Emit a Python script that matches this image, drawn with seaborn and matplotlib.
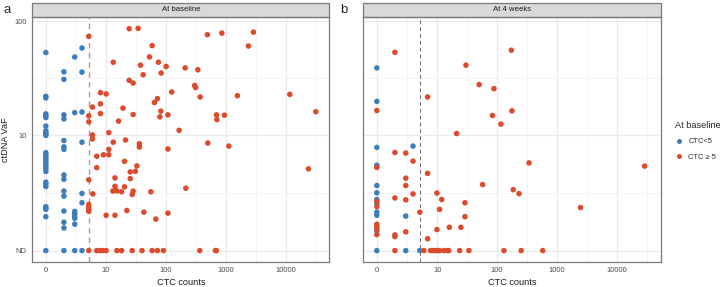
import numpy as np
import pandas as pd
import matplotlib
matplotlib.use("Agg")
import matplotlib.pyplot as plt
from matplotlib.lines import Line2D
from matplotlib.patches import Rectangle
import seaborn as sns

# (CTC count, ctDNA VaF) pairs, VaF 0 = ND
baseline_low = [
    (0, 53.3), (0, 22.1), (0, 21.4), (0, 15.5), (0, 14.9), (0, 14.4), (0, 12.1), (0, 11.0),
    (0, 10.6), (0, 10.3), (0, 10.0), (0, 7.0), (0, 6.7), (0, 6.4), (0, 6.05), (0, 5.75),
    (0, 5.5), (0, 5.25), (0, 5.0), (0, 4.7), (0, 3.7), (0, 3.55), (0, 3.35), (0, 2.0),
    (0, 1.93), (0, 1.85), (0, 1.47), (0, 0),
    (1.5, 36.2), (1.5, 31.1), (1.5, 15.2), (1.5, 14.0), (1.5, 9.0), (1.5, 7.9), (1.5, 7.5),
    (1.5, 4.35), (1.5, 3.95), (1.5, 3.0), (1.5, 2.65), (1.5, 1.76), (1.5, 1.2), (1.5, 0.94), (1.5, 0),
    (2.7, 48.8), (2.7, 15.9), (2.7, 1.74), (2.7, 1.62), (2.7, 1.5), (2.7, 1.39), (2.7, 1.11), (2.7, 0),
    (3.75, 58.4), (3.75, 36.0), (3.75, 16.1), (3.75, 8.7), (3.75, 2.83), (3.75, 2.23), (3.75, 0),
]
baseline_high = [
    (5, 73.8), (5, 14.9), (5, 13.2), (5, 3.9), (5, 2.13), (5, 1.99), (5, 1.86), (5, 1.74), (5, 0),
    (5.8, 17.8), (5.8, 10.1), (5.8, 9.3), (5.9, 2.8),
    (8.0, 23.8), (8.0, 19.0), (8.0, 15.6), (10.0, 23.2), (10.0, 1.54),
    (11.1, 10.6), (11.1, 7.5), (11.1, 6.7), (9.0, 6.7), (6.9, 6.5), (6.9, 5.1),
    (13.2, 43.9), (13.2, 8.7), (13.0, 3.0), (14.1, 4.07), (14.1, 3.36), (14.1, 1.54), (15.2, 3.02),
    (16.2, 13.4), (18.2, 2.95), (19.2, 17.4), (20.4, 5.83), (20.4, 3.32), (21.2, 9.1), (22.3, 1.79),
    (24.4, 86.1), (24.4, 30.5), (25.4, 4.65), (25.4, 4.01), (27.4, 2.76), (28.4, 3.0), (28.4, 28.9),
    (28.4, 15.3), (31.0, 4.71), (32.8, 5.29), (34.4, 86.6), (36.2, 8.43), (36.2, 7.87), (37.7, 41.4),
    (41.7, 34.1), (42.9, 1.70), (53.2, 48.8), (56.1, 2.95), (59.0, 61.3), (64.4, 19.5), (67.9, 1.35),
    (72.2, 21.1), (75.0, 43.9), (79.2, 14.6), (82.3, 16.4), (83.2, 35.3), (101, 40.3), (108, 15.2),
    (108, 7.56), (108, 1.65), (125, 24.1), (166, 11.1), (209, 39.2), (215, 3.21), (301, 27.5),
    (313, 26.4), (340, 37.7), (372, 21.8), (491, 76.4), (499, 8.55), (694, 15.2), (705, 13.8),
    (854, 78.8), (943, 15.1), (1117, 8.03), (1552, 22.4), (2368, 60.8), (2869, 80.4),
    (11590, 23.0), (23640, 4.97), (31400, 16.2),
    (6.9, 0), (7.9, 0), (8.8, 0), (10, 0), (15.2, 0), (18.2, 0), (27.4, 0), (40, 0), (59, 0),
    (72.2, 0), (90.9, 0), (367, 0), (668, 0), (694, 0),
]
week4_low = [
    (0, 39.2), (0, 19.95), (0, 7.81), (0, 5.36), (0, 3.42), (0, 2.88), (0, 2.43), (0, 2.19),
    (0, 1.70), (0, 1.54), (0, 0.8), (0, 0),
    (2.7, 1.5), (2.7, 0), (3.75, 8.03), (5, 0),
]
week4_high = [
    (0, 16.6), (0, 5.13), (0, 2.31), (0, 2.0), (0, 1.11), (0, 1.0), (0, 0.88), (0, 0.65),
    (1.5, 53.6), (30.3, 41.4), (50.4, 28.0), (88.8, 25.8), (6.85, 21.8), (83.9, 15.0), (173, 55.9),
    (177, 16.5), (116, 12.6), (21.2, 10.4), (1.5, 7.03), (2.7, 6.95), (3.75, 5.87), (340, 5.64),
    (28500, 5.27), (6.85, 4.5), (2.7, 4.05), (2.7, 3.42), (57.5, 3.5), (186, 3.1), (232, 2.82),
    (2443, 1.95), (3.75, 2.8), (9.9, 2.86), (1.5, 2.53), (2.7, 2.41), (11.9, 2.43), (29.2, 2.23),
    (11.0, 1.85), (5, 1.70), (29.2, 1.47), (9.9, 0.87), (16.0, 0.97), (25.0, 0.97), (2.7, 0.77),
    (1.5, 0.64), (1.5, 0.57), (6.85, 0.48),
    (1.5, 0), (5.9, 0), (7.7, 0), (8.6, 0), (9.4, 0), (10.3, 0), (11.0, 0), (13.0, 0), (14.7, 0),
    (15.6, 0), (23.8, 0), (34.0, 0), (130, 0), (252, 0), (575, 0),
]

group_labels = ["CTC<5", "CTC \u2265 5"]
group_colors = ["#3D7EBA", "#DC4B2C"]
panel_titles = ["At baseline", "At 4 weeks"]
x_breaks = [0, 10, 100, 1000, 10000]
y_breaks = [0, 10, 100]
y_break_labels = ["ND", "10", "100"]
ctc_cutoff = 5


def make_frame(low, high):
    rows = [(x, y, group_labels[0]) for x, y in low] + [(x, y, group_labels[1]) for x, y in high]
    return pd.DataFrame(rows, columns=["ctc", "vaf", "group"])


frames = [make_frame(baseline_low, baseline_high), make_frame(week4_low, week4_high)]

LN10 = np.log(10)


def fwd(v):
    return np.arcsinh(np.asarray(v, dtype=float) / 2) / LN10


def inv(t):
    return 2 * np.sinh(np.asarray(t, dtype=float) * LN10)


def expanded(vals):
    t = fwd(np.max(vals))
    return inv(-0.05 * t), inv(1.05 * t)


def midpoints(breaks, extra_hi):
    t = fwd(breaks)
    mids = list((t[:-1] + t[1:]) / 2) + [t[-1] + 0.5 * extra_hi]
    return inv(np.array(mids))


all_x = pd.concat(frames)["ctc"]
all_y = pd.concat(frames)["vaf"]
xlim = expanded(all_x)
ylim = expanded(all_y)

sns.set_style("white")
plt.rcParams["font.family"] = ["Liberation Sans", "DejaVu Sans"]

fig = plt.figure(figsize=(7.2, 2.87), dpi=100)
axes = [fig.add_axes([0.0449, 0.0882, 0.4125, 0.8515]),
        fig.add_axes([0.5046, 0.0882, 0.413, 0.8515])]

for i, (ax, df) in enumerate(zip(axes, frames)):
    ax.set_xscale("function", functions=(fwd, inv))
    ax.set_yscale("function", functions=(fwd, inv))
    sns.scatterplot(data=df, x="ctc", y="vaf", hue="group", hue_order=group_labels,
                    palette=group_colors, s=16, linewidth=0, legend=False, ax=ax, zorder=3)
    ax.set_xlim(*xlim)
    ax.set_ylim(*ylim)
    ax.set_xticks(x_breaks)
    ax.set_xticklabels([str(b) for b in x_breaks])
    ax.set_xticks(midpoints(x_breaks, 1), minor=True)
    ax.set_yticks(y_breaks)
    ax.set_yticks(midpoints(y_breaks, 1)[:-1], minor=True)
    ax.grid(which="major", color="#EBEBEB", lw=0.9)
    ax.grid(which="minor", color="#F3F3F3", lw=0.6)
    ax.set_axisbelow(True)
    ax.tick_params(which="major", length=2.5, width=0.6, color="#333333",
                   labelsize=5.5, labelcolor="#4D4D4D", pad=1.5)
    ax.tick_params(which="minor", length=0)
    for sp in ax.spines.values():
        sp.set_color("#7A7A7A")
        sp.set_linewidth(0.9)
    ax.axvline(ctc_cutoff, color="#A0A0A0" if i == 0 else "#6A6A6A",
               ls=(0, (4, 3)), lw=1.0 if i == 0 else 0.7, zorder=2)
    ax.set_xlabel("CTC counts", fontsize=6.6, color="#1A1A1A", labelpad=3)
    strip = Rectangle((0, 1), 1, 0.0597, transform=ax.transAxes, clip_on=False,
                      facecolor="#D9D9D9", edgecolor="#7A7A7A", lw=0.9)
    ax.add_patch(strip)
    ax.text(0.5, 1.03, panel_titles[i], transform=ax.transAxes, ha="center", va="center",
            fontsize=5.6, color="#1A1A1A")

axes[0].set_yticklabels(y_break_labels)
axes[0].set_ylabel("ctDNA VaF", fontsize=6.6, color="#1A1A1A", labelpad=3)
axes[1].set_ylabel("")
axes[1].tick_params(axis="y", left=False, labelleft=False)

fig.text(3 / 720, 1 - 10 / 287, "a", fontsize=9.5, va="center")
fig.text(340 / 720, 1 - 10 / 287, "b", fontsize=9.5, va="center")

handles = [Line2D([], [], marker="o", ls="", color=c, markersize=3.6, markeredgewidth=0)
           for c in group_colors]
fig.legend(handles, group_labels, title="At baseline", loc="upper left",
           bbox_to_anchor=(668 / 720, 1 - 114 / 287), frameon=False, fontsize=5.4,
           title_fontsize=6.6, handletextpad=0.6, labelspacing=1.1, alignment="left",
           handlelength=1.2)

fig.savefig("out.png", dpi=100)
